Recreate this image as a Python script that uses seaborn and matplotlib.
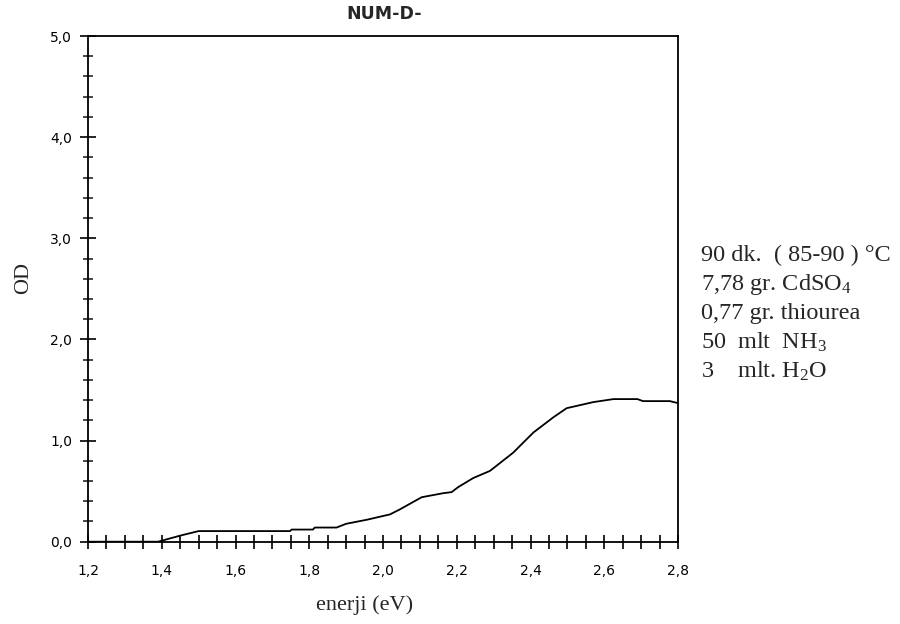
import matplotlib
matplotlib.use("Agg")
import matplotlib.pyplot as plt
import seaborn as sns
import pandas as pd
from matplotlib.ticker import MultipleLocator, FixedLocator

# data
energy = [1.20, 1.39, 1.40, 1.42, 1.45, 1.50, 1.60, 1.70, 1.748, 1.752, 1.81, 1.815,
          1.874, 1.90, 1.956, 2.019, 2.046, 2.105, 2.164, 2.186, 2.204, 2.245,
          2.29, 2.353, 2.408, 2.462, 2.498, 2.57, 2.625, 2.69, 2.705, 2.778, 2.80]
od = [0.0, 0.0, 0.01, 0.03, 0.06, 0.105, 0.105, 0.105, 0.105, 0.12, 0.12, 0.14,
      0.14, 0.177, 0.217, 0.27, 0.32, 0.44, 0.48, 0.49, 0.54, 0.63,
      0.70, 0.88, 1.08, 1.23, 1.32, 1.38, 1.41, 1.41, 1.39, 1.39, 1.37]

x_ticks = [1.2, 1.4, 1.6, 1.8, 2.0, 2.2, 2.4, 2.6, 2.8]
x_tick_labels = ["1,2", "1,4", "1,6", "1,8", "2,0", "2,2", "2,4", "2,6", "2,8"]
y_ticks = [0.0, 1.0, 2.0, 3.0, 4.0, 5.0]
y_tick_labels = ["0,0", "1,0", "2,0", "3,0", "4,0", "5,0"]

title = "NUM-D-"
x_label = "enerji (eV)"
y_label = "OD"
notes = ["90 dk.  ( 85-90 ) °C",
         r"7,78 gr. CdSO$_4$",
         "0,77 gr. thiourea",
         r"50  mlt  NH$_3$",
         r"3    mlt. H$_2$O"]

sns.set_style("ticks")
plt.rcParams["mathtext.fontset"] = "custom"
plt.rcParams["mathtext.rm"] = "Liberation Serif"
plt.rcParams["mathtext.it"] = "Liberation Serif"

fig = plt.figure(figsize=(9, 6.24), dpi=100)
ax = fig.add_axes([88 / 900, 1 - 541.7 / 624, 590 / 900, 505.7 / 624])

df = pd.DataFrame({"energy": energy, "od": od})
sns.lineplot(data=df, x="energy", y="od", ax=ax, color="black", linewidth=1.3)

ax.set_xlim(1.2, 2.8)
ax.set_ylim(0.0, 5.0)
ax.xaxis.set_major_locator(FixedLocator(x_ticks))
ax.set_xticklabels(x_tick_labels)
ax.yaxis.set_major_locator(FixedLocator(y_ticks))
ax.set_yticklabels(y_tick_labels)
ax.xaxis.set_minor_locator(MultipleLocator(0.05))
ax.yaxis.set_minor_locator(MultipleLocator(0.2))

ax.tick_params(axis="x", which="both", direction="inout", length=10, width=1.2,
               labelsize=10, pad=11, colors="black")
ax.tick_params(axis="y", which="major", direction="inout", length=11, width=1.2,
               labelsize=10, pad=6, colors="black")
ax.tick_params(axis="y", which="minor", direction="inout", length=7, width=1.2)
for lab in ax.get_xticklabels() + ax.get_yticklabels():
    lab.set_fontfamily("DejaVu Sans")

for s in ax.spines.values():
    s.set_linewidth(1.3)
    s.set_color("black")

ax.set_xlabel("")
ax.set_ylabel("")
fig.text(365 / 900, 1 - 605 / 624, x_label, ha="center", va="center",
         fontsize=16, family="Liberation Serif")
fig.text(24 / 900, 1 - 278 / 624, y_label, ha="center", va="center",
         fontsize=16, family="Liberation Serif", rotation=90)
fig.text(384 / 900, 1 - 14 / 624, title, ha="center", va="center",
         fontsize=12.5, family="DejaVu Sans", fontweight="bold")

y0 = 255
for i, t in enumerate(notes):
    fig.text(701 / 900, 1 - (y0 + i * 29.2) / 624, t, ha="left", va="center",
             fontsize=17.5, family="Liberation Serif")

fig.savefig("out.png", dpi=100, facecolor="white")
